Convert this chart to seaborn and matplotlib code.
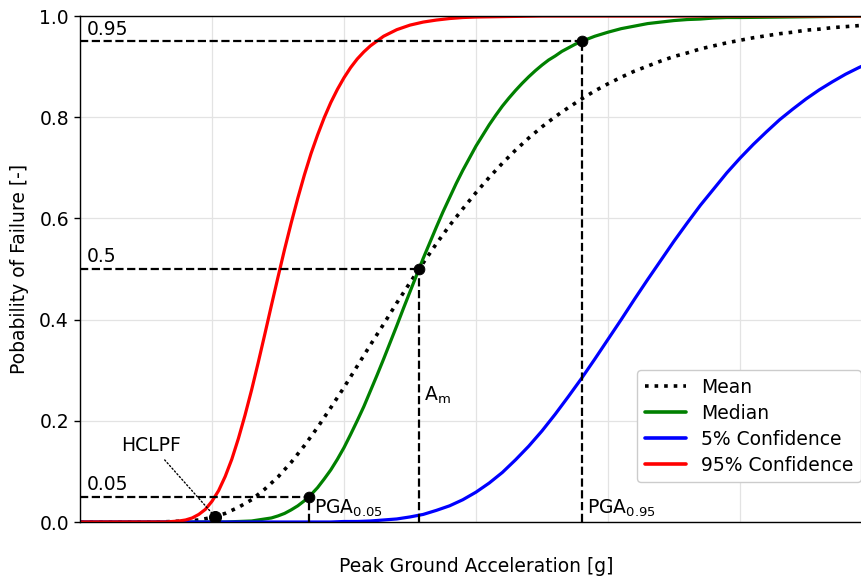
import matplotlib
matplotlib.use("Agg")
import matplotlib.pyplot as plt
import seaborn as sns

# ---- data ----
x_g = [0.00, 0.02, 0.04, 0.06, 0.08, 0.10, 0.12, 0.14, 0.16, 0.18, 0.20, 0.22, 0.24,
       0.26, 0.28, 0.30, 0.32, 0.34, 0.36, 0.38, 0.40, 0.42, 0.44, 0.46, 0.48, 0.50,
       0.52, 0.54, 0.56, 0.58, 0.60, 0.62, 0.64, 0.66, 0.68, 0.70, 0.72, 0.74, 0.76,
       0.78, 0.80, 0.82, 0.84, 0.86, 0.88, 0.90, 0.92, 0.94, 0.96, 0.98, 1.00, 1.02,
       1.04, 1.06, 1.08, 1.10, 1.12, 1.14, 1.16, 1.18, 1.20]

mean_p = [0.000, 0.000, 0.000, 0.000, 0.000, 0.000, 0.000, 0.001, 0.002, 0.004, 0.009, 0.017, 0.029,
          0.044, 0.065, 0.089, 0.118, 0.151, 0.187, 0.226, 0.266, 0.308, 0.350, 0.391, 0.433, 0.473,
          0.512, 0.550, 0.586, 0.619, 0.651, 0.681, 0.709, 0.735, 0.759, 0.781, 0.801, 0.819, 0.836,
          0.852, 0.866, 0.879, 0.891, 0.901, 0.911, 0.920, 0.927, 0.935, 0.941, 0.947, 0.952, 0.957,
          0.961, 0.965, 0.968, 0.972, 0.974, 0.977, 0.979, 0.981, 0.983]

conf5_p = [0.000, 0.000, 0.000, 0.000, 0.000, 0.000, 0.000, 0.000, 0.000, 0.000, 0.000, 0.000, 0.000,
           0.000, 0.000, 0.000, 0.000, 0.000, 0.000, 0.000, 0.001, 0.001, 0.002, 0.004, 0.006, 0.010,
           0.015, 0.023, 0.032, 0.044, 0.059, 0.077, 0.098, 0.123, 0.150, 0.180, 0.213, 0.248, 0.284,
           0.322, 0.361, 0.400, 0.440, 0.479, 0.517, 0.555, 0.591, 0.626, 0.658, 0.690, 0.719, 0.746,
           0.771, 0.795, 0.816, 0.836, 0.854, 0.870, 0.885, 0.898, 0.910]

median_x = [0.00, 0.20, 0.22, 0.24, 0.26, 0.27, 0.28, 0.29, 0.30, 0.31, 0.32, 0.33,
            0.34, 0.35, 0.36, 0.37, 0.38, 0.39, 0.40, 0.41, 0.42, 0.43, 0.44, 0.45,
            0.46, 0.47, 0.48, 0.49, 0.50, 0.51, 0.52, 0.53, 0.54, 0.55, 0.56, 0.57,
            0.58, 0.59, 0.60, 0.61, 0.62, 0.63, 0.64, 0.65, 0.66, 0.67, 0.68, 0.69,
            0.70, 0.71, 0.72, 0.73, 0.74, 0.75, 0.76, 0.78, 0.80, 0.82, 0.84, 0.86,
            0.88, 0.90, 0.92, 0.94, 0.96, 0.98, 1.00, 1.20]
median_p = [0.000, 0.000, 0.000, 0.001, 0.002, 0.004, 0.006, 0.008, 0.012, 0.017, 0.024, 0.032,
            0.042, 0.054, 0.068, 0.085, 0.103, 0.124, 0.147, 0.173, 0.200, 0.228, 0.259, 0.290,
            0.322, 0.355, 0.388, 0.422, 0.455, 0.488, 0.521, 0.552, 0.583, 0.613, 0.641, 0.669,
            0.695, 0.719, 0.743, 0.764, 0.785, 0.804, 0.822, 0.838, 0.853, 0.867, 0.880, 0.892,
            0.903, 0.913, 0.921, 0.930, 0.937, 0.944, 0.950, 0.960, 0.968, 0.975, 0.980, 0.985,
            0.988, 0.991, 0.993, 0.994, 0.996, 0.997, 0.997, 1.000]

conf95_x = [0.00, 0.10, 0.12, 0.13, 0.14, 0.15, 0.16, 0.17, 0.18, 0.19, 0.20, 0.21,
            0.22, 0.23, 0.24, 0.25, 0.26, 0.27, 0.28, 0.29, 0.30, 0.31, 0.32, 0.33,
            0.34, 0.35, 0.36, 0.37, 0.38, 0.39, 0.40, 0.41, 0.42, 0.43, 0.44, 0.46,
            0.48, 0.50, 0.52, 0.54, 0.56, 0.58, 0.60, 0.70, 1.20]
conf95_p = [0.000, 0.000, 0.000, 0.000, 0.001, 0.002, 0.004, 0.008, 0.015, 0.025, 0.041, 0.062,
            0.090, 0.124, 0.165, 0.211, 0.261, 0.315, 0.371, 0.428, 0.484, 0.539, 0.591, 0.640,
            0.686, 0.728, 0.765, 0.799, 0.829, 0.855, 0.878, 0.898, 0.915, 0.929, 0.941, 0.960,
            0.973, 0.982, 0.988, 0.992, 0.995, 0.997, 0.998, 1.000, 1.000]

series_names = ["Mean", "Median", "5% Confidence", "95% Confidence"]
series_colors = ["black", "green", "blue", "red"]

# marked points on the median curve
point_x = [0.3468, 0.5136, 0.7606]
point_p = [0.05, 0.5, 0.95]
level_labels = ["0.05", "0.5", "0.95"]
point_labels = ["PGA$_{0.05}$", "A$_\\mathrm{m}$", "PGA$_{0.95}$"]
point_label_y = [0.027, 0.25, 0.027]

hclpf_x = 0.2045
hclpf_p = 0.0107

FS = 13.5

# ---- plot ----
sns.set_theme(style="whitegrid")
plt.rcParams.update({
    "font.family": ["DejaVu Sans"],
    "axes.edgecolor": "black",
    "axes.linewidth": 1.0,
    "grid.color": "#e3e3e3",
    "grid.linewidth": 0.9,
    "text.color": "black",
    "axes.labelcolor": "black",
    "xtick.color": "black",
    "ytick.color": "black",
})

fig = plt.figure(figsize=(8.62, 5.8), dpi=100)
ax = fig.add_axes([80 / 862, 1 - 522 / 580, 792 / 862, 506 / 580])

series = [(x_g, mean_p), (median_x, median_p), (x_g, conf5_p), (conf95_x, conf95_p)]
styles = [":", "-", "-", "-"]
widths = [2.6, 2.3, 2.3, 2.3]
for name, col, (xs, ys), ls, lw in zip(series_names, series_colors, series, styles, widths):
    sns.lineplot(x=xs, y=ys, color=col, linestyle=ls, linewidth=lw, label=name, ax=ax)

# reference lines
for px, pp, lab, plab, ly in zip(point_x, point_p, level_labels, point_labels, point_label_y):
    ax.hlines(pp, 0, px, colors="black", linestyles="--", linewidth=1.6, zorder=4)
    ax.vlines(px, 0, pp, colors="black", linestyles="--", linewidth=1.6, zorder=4)
    ax.text(0.010, pp + 0.005, lab, fontsize=FS, ha="left", va="bottom", color="black")
    ax.text(px + 0.007, ly, plab, fontsize=FS, ha="left", va="center", color="black")

sns.scatterplot(x=point_x, y=point_p, color="black", s=60, edgecolor="black", zorder=5, ax=ax, legend=False)
sns.scatterplot(x=[hclpf_x], y=[hclpf_p], color="black", s=75, edgecolor="black", zorder=5, ax=ax, legend=False)

ax.annotate("HCLPF", xy=(hclpf_x, hclpf_p), xytext=(0.063, 0.152),
            fontsize=FS, ha="left", va="center", color="black",
            arrowprops=dict(arrowstyle="-", linestyle=":", linewidth=1.0, color="black",
                            shrinkA=2, shrinkB=3))

ax.set_xlim(0, 1.2)
ax.set_ylim(0, 1.0)
ax.set_xticks([0, 0.2, 0.4, 0.6, 0.8, 1.0, 1.2])
ax.set_yticks([0, 0.2, 0.4, 0.6, 0.8, 1.0])
ax.set_yticklabels(["0.0", "0.2", "0.4", "0.6", "0.8", "1.0"])
ax.tick_params(axis="x", bottom=False, labelbottom=False, length=0)
ax.tick_params(axis="y", left=True, length=4, width=1, color="black", labelcolor="black",
               labelsize=FS, pad=4)
for s in ["left", "bottom", "top", "right"]:
    ax.spines[s].set_visible(True)
    ax.spines[s].set_color("black")

ax.set_xlabel("Peak Ground Acceleration [g]", fontsize=FS, labelpad=25, color="black")
ax.set_ylabel("Pobability of Failure [-]", fontsize=FS, labelpad=7, color="black")

leg = ax.legend(loc="lower right", bbox_to_anchor=(0.986, 0.079), borderaxespad=0,
                fontsize=FS, handlelength=2.2, frameon=True, fancybox=True,
                framealpha=1.0, edgecolor="#cccccc", borderpad=0.4, labelspacing=0.37,
                handletextpad=0.8)
for t in leg.get_texts():
    t.set_color("black")
for h in leg.get_lines():
    h.set_linewidth(2.6)

fig.savefig("out.png", dpi=100)
